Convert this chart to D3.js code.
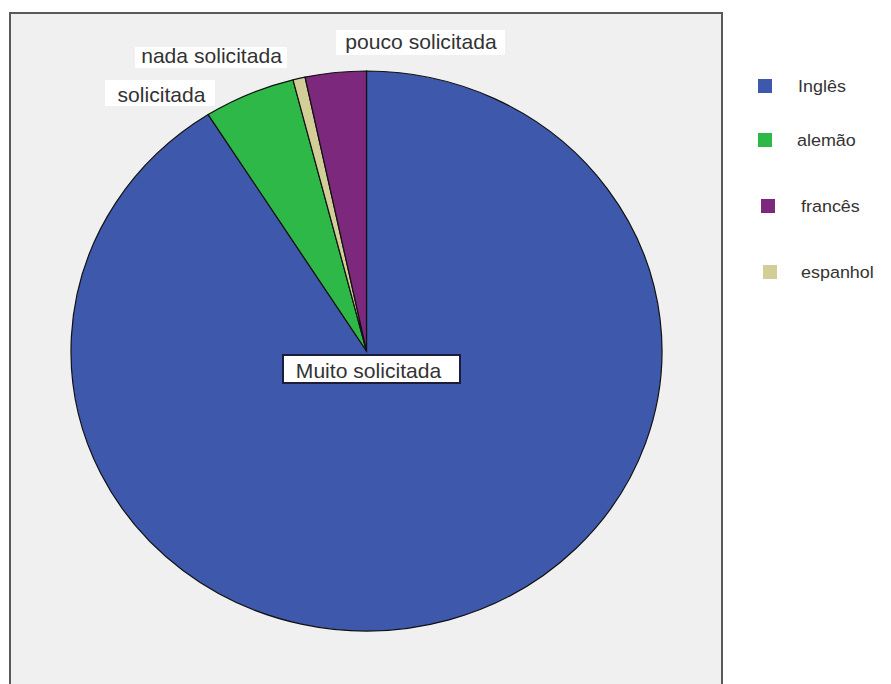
<!DOCTYPE html>
<html>
<head>
<meta charset="utf-8">
<script src="https://cdn.jsdelivr.net/npm/d3@7"></script>
<style>
  html, body { margin: 0; padding: 0; background: #ffffff; }
  svg { display: block; }
  text { font-family: "Liberation Sans", Arial, sans-serif; }
</style>
</head>
<body>
<svg id="chart" width="891" height="684"></svg>
<script>
// ---- data ----
const sliceCategories = ["Inglês", "alemão", "espanhol", "francês"];
const sliceValues = [273, 15, 2, 10];
const sliceLabels = ["Muito solicitada", "solicitada", "nada solicitada", "pouco solicitada"];
const legendCategories = ["Inglês", "alemão", "francês", "espanhol"];
const colors = {"Inglês": "#3e58ac", "alemão": "#2eb848", "francês": "#7c287d", "espanhol": "#d3ce97"};

// ---- layout ----
const W = 891, H = 684;
const cx = 366.5, cy = 351, rx = 295.5, ry = 280;
const sx = rx / ry; // horizontal stretch of the picture
// label layout: text centre x, baseline y, box [x0,y0,x1,y1], border
const labelLayout = [
  {x: 368.5, y: 377.5, box: [283, 355, 460, 383], border: true},
  {x: 161.5, y: 101.5, box: [105, 80, 215, 106], border: false},
  {x: 211.5, y: 62.5,  box: [135, 47, 287, 68], border: false},
  {x: 421,   y: 48.5,  box: [336, 30, 505, 55], border: false}
];
const legendY = [86, 140, 206, 272];
const legendSqX = [758, 758, 761, 763];
const legendTxX = [798, 797, 801, 801];

const svg = d3.select("#chart");

// plot frame
svg.append("rect")
  .attr("x", 10).attr("y", 13)
  .attr("width", 712).attr("height", 700)
  .attr("fill", "#f0f0f0")
  .attr("stroke", "#5a5a5a").attr("stroke-width", 2);

// pie
const pie = d3.pie().sort(null).value(d => d.v).startAngle(0).endAngle(2 * Math.PI);
const arcs = pie(sliceCategories.map((c, i) => ({c, v: sliceValues[i], label: sliceLabels[i]})));
const arc = d3.arc().innerRadius(0).outerRadius(ry);

const gPie = svg.append("g")
  .attr("transform", `translate(${cx},${cy}) scale(${sx},1)`);
gPie.selectAll("path")
  .data(arcs)
  .enter().append("path")
  .attr("d", arc)
  .attr("fill", d => colors[d.data.c])
  .attr("stroke", "#111")
  .attr("stroke-width", 1.2)
  .attr("vector-effect", "non-scaling-stroke");

// slice labels
const gLab = svg.append("g");
arcs.forEach((d, i) => {
  const L = labelLayout[i];
  gLab.append("rect")
    .attr("x", L.box[0]).attr("y", L.box[1])
    .attr("width", L.box[2] - L.box[0]).attr("height", L.box[3] - L.box[1])
    .attr("fill", "#ffffff")
    .attr("stroke", L.border ? "#1c1c3a" : "none")
    .attr("stroke-width", 2);
  gLab.append("text")
    .attr("transform", `translate(${L.x},${L.y}) scale(${sx},1)`)
    .attr("text-anchor", "middle")
    .attr("font-size", 20)
    .attr("fill", "#333")
    .text(d.data.label);
});

// legend
const gLeg = svg.append("g");
legendCategories.forEach((c, i) => {
  gLeg.append("rect")
    .attr("x", legendSqX[i]).attr("y", legendY[i] - 7)
    .attr("width", 14).attr("height", 14)
    .attr("fill", colors[c]);
  gLeg.append("text")
    .attr("transform", `translate(${legendTxX[i]},${legendY[i] + 6}) scale(${sx},1)`)
    .attr("font-size", 17)
    .attr("fill", "#333")
    .text(c);
});
</script>
</body>
</html>
